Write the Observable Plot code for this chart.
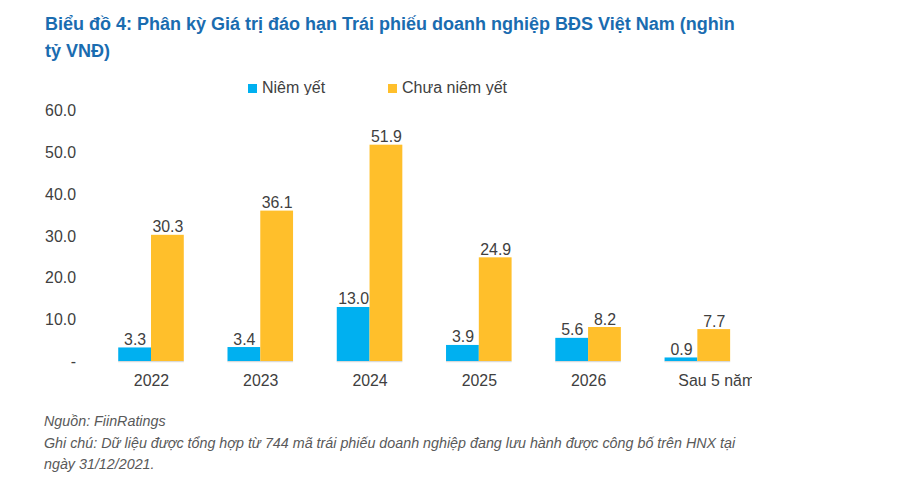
<!DOCTYPE html>
<html><head><meta charset="utf-8">
<script src="https://cdn.jsdelivr.net/npm/d3@7"></script>
<script src="https://cdn.jsdelivr.net/npm/@observablehq/plot@0.6"></script>
<style>
body{margin:0;background:#fff;font-family:"Liberation Sans",Arial,sans-serif;width:900px;height:480px;position:relative;overflow:hidden}
#title{position:absolute;left:45px;top:11px;width:700px;font-weight:bold;font-size:18px;line-height:27px;color:#1a6cb0}
#legend{position:absolute;top:79px;left:0;font-size:16px;color:#404040}
.li{position:absolute;white-space:nowrap;display:flex;align-items:center}
.sw{width:9px;height:9px;display:inline-block;margin-right:5px}
#chart{position:absolute;left:0;top:95px;width:752px;height:310px;overflow:hidden}
#note{position:absolute;left:44px;top:411px;font-style:italic;font-size:14.3px;line-height:21.5px;color:#595959}
</style></head>
<body>
<div id="title">Biểu đồ 4: Phân kỳ Giá trị đáo hạn Trái phiếu doanh nghiệp BĐS Việt Nam (nghìn tỷ VNĐ)</div>
<div id="legend"></div>
<div id="chart"></div>
<div id="note">Nguồn: FiinRatings<br>Ghi chú: Dữ liệu được tổng hợp từ 744 mã trái phiếu doanh nghiệp đang lưu hành được công bố trên HNX tại<br>ngày 31/12/2021.</div>
<script>
const categories = ["2022","2023","2024","2025","2026","Sau 5 năm"];
const seriesNames = ["Niêm yết","Chưa niêm yết"];
const listed = [3.3,3.4,13.0,3.9,5.6,0.9];
const unlisted = [30.3,36.1,51.9,24.9,8.2,7.7];
const colors = ["#00b0f0","#ffbf2b"];
const yTicks = [0,10,20,30,40,50,60];

const data = [];
categories.forEach((c,i)=>{
  data.push({cat:c, series:seriesNames[0], value:listed[i]});
  data.push({cat:c, series:seriesNames[1], value:unlisted[i]});
});

// legend
const leg = document.getElementById("legend");
const legX = [248,388];
seriesNames.forEach((s,i)=>{
  const d = document.createElement("div");
  d.className="li"; d.style.left=legX[i]+"px";
  d.innerHTML=`<span class="sw" style="background:${colors[i]}"></span>${s}`;
  leg.appendChild(d);
});

const lastCat = categories[categories.length-1];
const chart = Plot.plot({
  width: 757, height: 310,
  marginLeft: 96, marginRight: 0, marginTop: 16, marginBottom: 42,
  style:{fontFamily:"Liberation Sans, Arial, sans-serif", fontSize:"16px", color:"#404040", background:"#fff"},
  fx:{domain:categories, paddingInner:0.4, paddingOuter:0.2, label:null, axis:null},
  x:{domain:seriesNames, padding:0, axis:null},
  y:{domain:[0,60], ticks:yTicks, tickSize:0, tickPadding:43, label:null,
     tickFormat:d=> d===0 ? "-" : d.toFixed(1)},
  color:{domain:seriesNames, range:colors},
  marks:[
    Plot.axisFx({anchor:"bottom", ticks:categories.slice(0,-1), tickSize:0, tickPadding:13, label:null}),
    Plot.axisFx({anchor:"bottom", ticks:[lastCat], tickSize:0, tickPadding:13, label:null, dx:19}),
    Plot.barY(data,{fx:"cat", x:"series", y:"value", fill:"series", inset:0}),
    Plot.text(data,{fx:"cat", x:"series", y:"value", text:d=>d.value.toFixed(1), lineAnchor:"bottom", dy:-3, fill:"#404040", fontSize:16}),
    Plot.ruleY([0],{stroke:"#d9d9d9", strokeWidth:1.3})
  ]
});
document.getElementById("chart").appendChild(chart);
</script>
</body></html>
